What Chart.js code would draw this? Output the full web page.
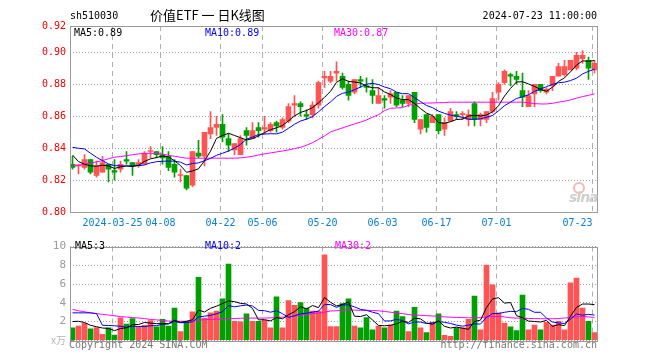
<!DOCTYPE html>
<html><head><meta charset="utf-8"><title>价值ETF 日K线图</title>
<script src="https://cdn.jsdelivr.net/npm/chart.js@4.4.1/dist/chart.umd.min.js"></script>
<style>
html,body{margin:0;padding:0;background:#fff;}
#wrap{position:relative;width:660px;height:360px;overflow:hidden;background:#fff;}
canvas{position:absolute;left:0;}
.t{position:absolute;font:10px/12px "DejaVu Sans Mono",monospace;white-space:pre;color:#000;}
</style></head><body><div id="wrap">
<canvas id="kc" width="660" height="236" style="top:0;width:660px;height:236px"></canvas>
<canvas id="vc" width="660" height="124" style="top:236px;width:660px;height:124px"></canvas>
</div>
<script>
// ---------------- data ----------------
const dates = ["2024-03-14","2024-03-15","2024-03-18","2024-03-19","2024-03-20","2024-03-21","2024-03-22","2024-03-25","2024-03-26","2024-03-27","2024-03-28","2024-03-29",
"2024-04-01","2024-04-02","2024-04-03","2024-04-08","2024-04-09","2024-04-10","2024-04-11","2024-04-12","2024-04-15","2024-04-16","2024-04-17","2024-04-18","2024-04-19","2024-04-22","2024-04-23","2024-04-24","2024-04-25","2024-04-26","2024-04-29","2024-04-30",
"2024-05-06","2024-05-07","2024-05-08","2024-05-09","2024-05-10","2024-05-13","2024-05-14","2024-05-15","2024-05-16","2024-05-17","2024-05-20","2024-05-21","2024-05-22","2024-05-23","2024-05-24","2024-05-27","2024-05-28","2024-05-29","2024-05-30","2024-05-31",
"2024-06-03","2024-06-04","2024-06-05","2024-06-06","2024-06-07","2024-06-11","2024-06-12","2024-06-13","2024-06-14","2024-06-17","2024-06-18","2024-06-19","2024-06-20","2024-06-21","2024-06-24","2024-06-25","2024-06-26","2024-06-27","2024-06-28",
"2024-07-01","2024-07-02","2024-07-03","2024-07-04","2024-07-05","2024-07-08","2024-07-09","2024-07-10","2024-07-11","2024-07-12","2024-07-15","2024-07-16","2024-07-17","2024-07-18","2024-07-19","2024-07-22","2024-07-23"];

const open = [0.830,0.829,0.828,0.833,0.823,0.825,0.830,0.826,0.827,0.833,
0.831,0.829,0.830,0.838,0.838,0.836,0.835,0.830,0.823,0.823,
0.817,0.837,0.835,0.849,0.853,0.855,0.846,0.839,0.836,0.851,
0.846,0.853,0.852,0.851,0.856,0.853,0.857,0.867,0.868,0.861,
0.861,0.867,0.884,0.882,0.887,0.885,0.880,0.875,0.883,0.879,
0.876,0.868,0.871,0.872,0.875,0.870,0.868,0.875,0.852,0.861,
0.856,0.861,0.852,0.857,0.861,0.861,0.858,0.868,0.858,0.858,
0.863,0.875,0.881,0.886,0.885,0.876,0.866,0.874,0.880,0.875,
0.879,0.885,0.886,0.889,0.890,0.896,0.895,0.889];
const high = [0.835,0.830,0.836,0.833,0.832,0.835,0.830,0.833,0.832,0.838,
0.831,0.833,0.838,0.841,0.838,0.841,0.838,0.833,0.827,0.823,
0.838,0.845,0.850,0.863,0.860,0.861,0.849,0.843,0.848,0.853,
0.856,0.856,0.860,0.856,0.857,0.859,0.868,0.873,0.869,0.864,
0.869,0.882,0.888,0.888,0.894,0.887,0.882,0.883,0.885,0.884,
0.883,0.878,0.873,0.876,0.875,0.873,0.873,0.875,0.858,0.861,
0.861,0.861,0.859,0.865,0.863,0.863,0.864,0.869,0.862,0.863,
0.875,0.881,0.889,0.887,0.888,0.887,0.876,0.880,0.880,0.878,
0.885,0.893,0.895,0.895,0.900,0.901,0.897,0.895];
const low = [0.827,0.824,0.827,0.824,0.822,0.825,0.819,0.820,0.825,0.830,
0.823,0.828,0.830,0.834,0.834,0.830,0.826,0.822,0.819,0.814,
0.816,0.834,0.829,0.846,0.848,0.844,0.838,0.836,0.836,0.842,
0.846,0.847,0.849,0.850,0.850,0.852,0.856,0.860,0.860,0.858,
0.859,0.865,0.878,0.881,0.882,0.877,0.870,0.874,0.878,0.875,
0.868,0.868,0.865,0.868,0.866,0.866,0.866,0.856,0.849,0.850,
0.856,0.849,0.848,0.857,0.858,0.858,0.854,0.854,0.854,0.856,
0.862,0.870,0.880,0.879,0.880,0.866,0.866,0.866,0.875,0.874,
0.876,0.885,0.885,0.889,0.889,0.893,0.883,0.887];
const close = [0.828,0.829,0.833,0.825,0.829,0.831,0.827,0.825,0.830,0.832,
0.829,0.831,0.837,0.838,0.836,0.834,0.828,0.825,0.823,0.815,
0.838,0.835,0.850,0.853,0.855,0.847,0.842,0.843,0.846,0.848,
0.851,0.851,0.853,0.855,0.854,0.858,0.866,0.868,0.866,0.860,
0.867,0.881,0.885,0.885,0.888,0.878,0.873,0.883,0.882,0.878,
0.873,0.873,0.870,0.874,0.867,0.868,0.873,0.858,0.858,0.853,
0.860,0.851,0.856,0.863,0.860,0.861,0.861,0.858,0.861,0.863,
0.871,0.880,0.888,0.885,0.883,0.872,0.873,0.880,0.876,0.877,
0.885,0.891,0.891,0.895,0.898,0.898,0.890,0.893];
const volume = [1.33,1.53,1.8,1.23,1.37,0.63,1.33,0.57,2.4,1.73,
2.33,1.43,1.6,2.1,1.43,2.23,1.53,3.43,0.93,2.03,
3.03,6.73,2.37,2.93,3.13,4.43,8.13,2.03,1.97,2.83,
2.03,2.03,2.13,1.33,4.63,1.33,4.23,3.73,4.03,3.43,
3.13,3.13,9.13,1.47,1.47,3.93,4.43,1.53,1.33,2.43,
1.13,1.53,1.33,1.63,3.13,2.53,0.93,3.53,1.33,0.83,
1.93,2.83,0.53,0.43,1.33,1.33,2.23,4.73,1.13,8.03,
5.93,2.93,1.83,1.43,1.03,4.83,1.13,1.63,1.13,1.93,
1.63,2.03,1.13,6.13,6.63,3.43,2.03,0.83];

const maK5 = [0.8358,0.8317,0.8300,0.8290,0.8288,0.8294,0.8290,0.8274,0.8284,0.8290,
0.8286,0.8294,0.8318,0.8334,0.8342,0.8352,0.8346,0.8322,0.8292,0.8250,
0.8258,0.8272,0.8322,0.8382,0.8462,0.8480,0.8494,0.8480,0.8466,0.8452,
0.8460,0.8478,0.8498,0.8516,0.8528,0.8542,0.8572,0.8602,0.8624,0.8636,
0.8654,0.8684,0.8718,0.8756,0.8812,0.8834,0.8818,0.8814,0.8808,0.8788,
0.8778,0.8778,0.8752,0.8736,0.8714,0.8704,0.8704,0.8680,0.8648,0.8620,
0.8604,0.8560,0.8556,0.8566,0.8580,0.8582,0.8602,0.8606,0.8602,0.8608,
0.8628,0.8666,0.8726,0.8774,0.8814,0.8816,0.8802,0.8786,0.8768,0.8756,
0.8782,0.8818,0.8840,0.8878,0.8920,0.8946,0.8944,0.8948];
const maK10 = [0.8406,0.8400,0.8396,0.8369,0.8344,0.8323,0.8302,0.8292,0.8290,0.8289,
0.8290,0.8292,0.8296,0.8309,0.8316,0.8319,0.8320,0.8320,0.8313,0.8296,
0.8305,0.8309,0.8322,0.8337,0.8356,0.8369,0.8383,0.8401,0.8424,0.8457,
0.8470,0.8486,0.8489,0.8491,0.8490,0.8501,0.8525,0.8550,0.8570,0.8582,
0.8598,0.8628,0.8660,0.8690,0.8724,0.8744,0.8751,0.8766,0.8782,0.8800,
0.8806,0.8798,0.8783,0.8772,0.8751,0.8741,0.8741,0.8716,0.8692,0.8667,
0.8654,0.8632,0.8618,0.8607,0.8600,0.8593,0.8581,0.8581,0.8584,0.8594,
0.8605,0.8634,0.8666,0.8688,0.8711,0.8722,0.8734,0.8756,0.8771,0.8785,
0.8799,0.8810,0.8813,0.8823,0.8838,0.8864,0.8881,0.8894];
const maK30 = [0.8290,0.8292,0.8302,0.8308,0.8315,0.8323,0.8335,0.8344,0.8348,0.8354,
0.8360,0.8365,0.8367,0.8369,0.8367,0.8363,0.8356,0.8350,0.8344,0.8338,
0.8338,0.8338,0.8338,0.8338,0.8338,0.8338,0.8338,0.8338,0.8340,0.8344,
0.8350,0.8358,0.8365,0.8371,0.8377,0.8383,0.8390,0.8398,0.8406,0.8419,
0.8435,0.8456,0.8477,0.8502,0.8515,0.8527,0.8540,0.8552,0.8563,0.8577,
0.8594,0.8610,0.8635,0.8650,0.8652,0.8654,0.8669,0.8675,0.8681,0.8683,
0.8683,0.8685,0.8685,0.8688,0.8688,0.8688,0.8688,0.8688,0.8688,0.8688,
0.8688,0.8688,0.8688,0.8688,0.8688,0.8688,0.8685,0.8679,0.8677,0.8677,
0.8681,0.8688,0.8694,0.8702,0.8713,0.8723,0.8731,0.8740];
const maV5 = [2.00,2.03,1.90,1.60,1.45,1.31,1.27,1.03,1.26,1.33,
1.67,1.69,1.90,1.84,1.78,1.76,1.78,2.14,1.91,2.03,
2.19,3.23,3.02,3.42,3.64,3.92,4.20,4.13,3.94,3.88,
3.40,2.18,2.20,2.07,2.43,2.29,2.73,3.05,3.59,3.35,
3.71,3.49,4.57,4.06,3.67,3.83,4.09,2.57,2.54,2.73,
2.17,1.59,1.55,1.61,1.75,2.03,1.91,2.35,2.29,1.83,
1.71,2.09,1.49,1.31,1.41,1.29,1.17,2.01,2.15,3.49,
4.41,4.55,3.97,4.03,2.63,2.41,2.05,2.01,1.95,2.13,
1.49,1.67,1.57,2.57,3.51,3.87,3.87,3.81];
const maV10 = [2.93,2.93,2.93,2.93,2.85,1.60,1.58,1.55,1.50,1.39,
1.49,1.48,1.46,1.55,1.56,1.72,1.74,2.02,1.87,1.90,
1.97,2.50,2.58,2.66,2.83,3.05,3.71,3.57,3.68,3.76,
3.66,3.19,3.16,3.00,3.15,2.84,2.45,2.62,2.83,2.89,
3.00,3.11,3.81,3.82,3.51,3.77,3.79,3.57,3.30,3.20,
3.00,2.84,2.06,2.07,2.24,2.10,1.75,1.95,1.95,1.79,
1.87,2.00,1.92,1.80,1.62,1.50,1.63,1.75,1.73,2.45,
2.85,2.86,2.99,3.09,3.06,3.41,3.30,2.99,2.99,2.38,
1.95,1.86,1.79,2.26,2.82,2.68,2.77,2.69];
const maV30 = [3.30,3.15,3.05,2.93,2.85,2.77,2.70,2.62,2.53,2.48,
2.42,2.38,2.32,2.22,2.18,2.12,2.05,2.03,2.03,2.03,
2.08,2.15,2.20,2.23,2.25,2.27,2.30,2.33,2.35,2.37,
2.37,2.37,2.37,2.40,2.43,2.47,2.52,2.60,2.70,2.78,
2.85,2.90,3.00,3.13,3.15,3.20,3.25,3.22,3.20,3.20,
3.18,3.15,3.08,3.00,2.90,2.85,2.75,2.70,2.67,2.63,
2.60,2.55,2.50,2.47,2.43,2.42,2.40,2.40,2.42,2.50,
2.55,2.55,2.50,2.40,2.37,2.35,2.33,2.32,2.30,2.30,
2.30,2.32,2.38,2.43,2.50,2.53,2.50,2.43];

const xTickDates  = ["2024-03-25","2024-04-08","2024-04-22","2024-05-06","2024-05-20","2024-06-03","2024-06-17","2024-07-01","2024-07-23"];
const xTickLabels = ["2024-03-25","04-08","04-22","05-06","05-20","06-03","06-17","07-01","07-23"];
const kTickValues = [0.80,0.82,0.84,0.86,0.88,0.90];
const kTickLabels = ["0.80","0.82","0.84","0.86","0.88","0.90","0.92"];
const vTickValues = [0,2,4,6,8,10];
const vTickLabels = ["x万","2","4","6","8","10"];
const kLegend = ["MA5:0.89","MA10:0.89","MA30:0.87"];
const vLegend = ["MA5:3","MA10:2","MA30:2"];
const headerCode = "sh510030";
const headerTitle = "价值ETF 一 日K线图";
const headerTime = "2024-07-23 11:00:00";
const footerLeft = "Copyright 2024 SINA.COM";
const footerRight = "http://finance.sina.com.cn";

// ---------------- styling / layout ----------------
const RED = '#ff5454', GREEN = '#00a000';
const MA_COLORS = ['#000000', '#0000ff', '#ff00ff'];
const K_TOP = 0.9164;           // price value at top edge of panel
const X_MIN = -5/12, X_MAX = 87 + 5/12;
const MONO = "'DejaVu Sans Mono', monospace";
Chart.defaults.font.family = MONO;
Chart.defaults.font.size = 10;

const up = close.map((c, i) => c >= open[i]);
const colors = up.map(u => u ? RED : GREEN);
const tickIdx = xTickDates.map(d => dates.indexOf(d));

const frame = {
  id: 'frame',
  afterDraw(c) {
    const {ctx, chartArea: a} = c;
    ctx.save();
    ctx.strokeStyle = '#9a9a9a';
    ctx.lineWidth = 1;
    ctx.strokeRect(Math.round(a.left) + 0.5, Math.round(a.top) + 0.5,
                   Math.round(a.right - a.left), Math.round(a.bottom - a.top));
    ctx.restore();
  }
};

function xScale(h, showLabels) {
  return {
    type: 'linear', min: X_MIN, max: X_MAX, bounds: 'data', offset: false,
    afterFit(s) { s.height = h; },
    afterBuildTicks(s) { s.ticks = tickIdx.map(i => ({value: i - 1/3})); },
    ticks: {
      display: showLabels, autoSkip: false, maxRotation: 0, padding: 5,
      color: '#0a80d0', font: {family: MONO, size: 10},
      callback: (v, i) => i === xTickLabels.length - 1 ? xTickLabels[i] + '     ' : xTickLabels[i]
    },
    grid: {color: '#b0b0b0', lineWidth: 1, drawTicks: false, offset: false},
    border: {display: false, dash: [5, 4]}
  };
}

function lineDs(arr, color) {
  return {type: 'line', data: arr.map((v, i) => ({x: i, y: v})), borderColor: color,
          borderWidth: 1, pointRadius: 0, tension: 0, order: 0};
}

// ---------------- price chart ----------------
new Chart(document.getElementById('kc'), {
  type: 'bar',
  data: {
    datasets: [
      lineDs(maK5, MA_COLORS[0]),
      lineDs(maK10, MA_COLORS[1]),
      lineDs(maK30, MA_COLORS[2]),
      {type: 'bar', data: open.map((o, i) => ({x: i, y: [Math.min(o, close[i]), Math.max(o, close[i])]})),
       backgroundColor: colors, barThickness: 5, grouped: false, minBarLength: 1, order: 2},
      {type: 'bar', data: low.map((l, i) => ({x: i, y: [l, high[i]]})),
       backgroundColor: colors, barThickness: 1, grouped: false, minBarLength: 1, order: 3}
    ]
  },
  options: {
    responsive: false, animation: false, events: [],
    layout: {padding: {left: 0, right: 63, top: 26, bottom: 0}},
    plugins: {legend: {display: false}, tooltip: {enabled: false}},
    scales: {
      x: xScale(23.7, true),
      y: {
        min: 0.80, max: K_TOP,
        afterFit(s) { s.width = 70; },
        afterBuildTicks(s) { s.ticks = kTickValues.concat([K_TOP]).map(v => ({value: v})); },
        ticks: {color: '#f00000', padding: 4, font: {family: MONO, size: 10},
                callback: (v, i) => kTickLabels[i]},
        grid: {color: '#a0a0a0', lineWidth: 1, drawTicks: false},
        border: {display: false, dash: [1, 2]}
      }
    }
  },
  plugins: [frame]
});

// ---------------- volume chart ----------------
new Chart(document.getElementById('vc'), {
  type: 'bar',
  data: {
    datasets: [
      lineDs(maV5, MA_COLORS[0]),
      lineDs(maV10, MA_COLORS[1]),
      lineDs(maV30, MA_COLORS[2]),
      {type: 'bar', data: volume.map((v, i) => ({x: i, y: v})),
       backgroundColor: colors, barThickness: 5, grouped: false, order: 2}
    ]
  },
  options: {
    responsive: false, animation: false, events: [],
    layout: {padding: {left: 0, right: 63, top: 4.3, bottom: 0}},
    plugins: {legend: {display: false}, tooltip: {enabled: false}},
    scales: {
      x: xScale(19.7, false),
      y: {
        min: 0, max: 10,
        afterFit(s) { s.width = 70; },
        afterBuildTicks(s) { s.ticks = vTickValues.map(v => ({value: v})); },
        ticks: {
          padding: 4,
          color: c => (c.tick && c.tick.value === 0) ? '#b4b4b4' : '#9a9a9a',
          font: c => (c.tick && c.tick.value === 0) ? {family: "'Noto Sans CJK SC', sans-serif", size: 10}
                                                     : {family: MONO, size: 11},
          callback: (v, i) => vTickLabels[i]
        },
        grid: {color: '#a0a0a0', lineWidth: 1, drawTicks: false},
        border: {display: false, dash: [1, 2]}
      }
    }
  },
  plugins: [frame]
});

// ---------------- text overlays ----------------
const wrap = document.getElementById('wrap');
function addText(txt, css) {
  const d = document.createElement('div');
  d.className = 't';
  d.textContent = txt;
  Object.assign(d.style, css);
  wrap.appendChild(d);
  return d;
}
addText(headerCode, {left: '70px', top: '10px'});
addText(headerTitle, {left: '150px', top: '7px', font: "13px/16px 'Noto Sans CJK SC', sans-serif"});
addText(headerTime, {right: '63px', top: '10px'});
const kx = [74, 205, 334], vx = [75, 205, 335];
kLegend.forEach((t, i) => addText(t, {left: kx[i] + 'px', top: '27px', color: MA_COLORS[i]}));
vLegend.forEach((t, i) => addText(t, {left: vx[i] + 'px', top: '240px', color: MA_COLORS[i]}));
addText(footerLeft, {left: '69px', top: '339px', color: '#777'});
addText(footerRight, {right: '63px', top: '339px', color: '#777'});
// faint sina watermark
const ring = document.createElement('div');
Object.assign(ring.style, {position: 'absolute', left: '573px', top: '182px', width: '8px', height: '8px',
  border: '2px solid #f4b8b8', borderRadius: '50%'});
wrap.appendChild(ring);
addText('sina', {left: '569px', top: '190px', font: "italic bold 14px/14px 'DejaVu Sans', sans-serif", color: '#cfcfcf', letterSpacing: '-1px'});
</script>
</body></html>
